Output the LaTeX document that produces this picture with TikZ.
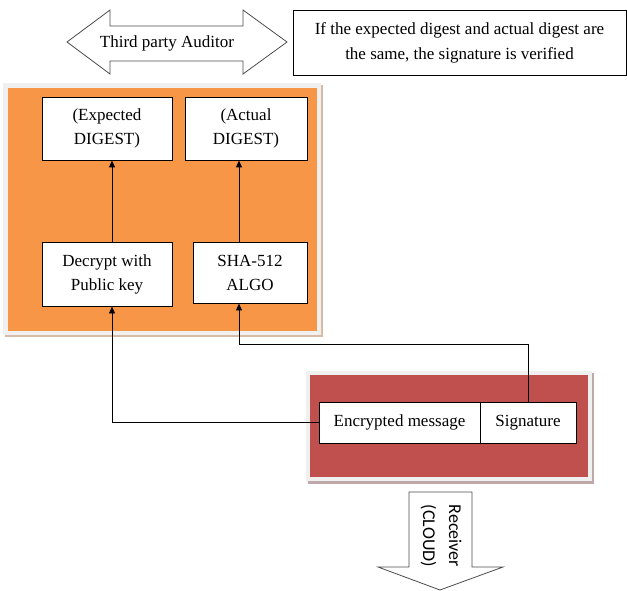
\documentclass[tikz,border=0pt]{standalone}
\usepackage{fontspec}
\setmainfont{Liberation Serif}
\newfontfamily\receiverfont{Carlito}
\usetikzlibrary{arrows.meta}
\definecolor{panelorange}{HTML}{F79646}
\definecolor{panelred}{HTML}{C0504D}
\definecolor{panelframe}{HTML}{F0F0F0}
\definecolor{orangeshade}{HTML}{D9BBA3}
\definecolor{redshade}{HTML}{BFA7AA}
\tikzset{
  stepbox/.style={draw,fill=white,line width=0.9pt,align=center,inner sep=0pt,
    font=\fontsize{17}{24}\selectfont},
  flow/.style={-{Triangle[length=7pt,width=6pt]},line width=0.9pt},
  bigarrow/.style={draw=black!70,fill=white,line width=0.8pt},
}
\begin{document}
\begin{tikzpicture}[x=1pt,y=-1pt]
\useasboundingbox (0,0) rectangle (627,591);
% top: auditor arrow and note
\draw[bigarrow] (67,42) -- (110,10) -- (110,26) -- (243,26) -- (243,10) -- (287,42)
  -- (243,74) -- (243,61) -- (110,61) -- (110,74) -- cycle;
\node[font=\fontsize{17}{20}\selectfont] (auditor) at(167,43){Third party Auditor};
\node[stepbox,minimum width=333,minimum height=65,font=\fontsize{17}{25}\selectfont] (note) at(459.5,42.5)
  {If the expected digest and actual digest are\\the same, the signature is verified};
% orange panel
\fill[orangeshade] (5,85) rectangle (323,337);
\fill[panelframe] (3,83) rectangle (321,335);
\fill[panelorange] (8,88) rectangle (317,331);
\node[stepbox,minimum width=130,minimum height=63] (exp) at(107,128.5){(Expected\\DIGEST)};
\node[stepbox,minimum width=122,minimum height=63] (act) at(246,128.5){(Actual\\DIGEST)};
\node[stepbox,minimum width=130,minimum height=64] (dec) at(107,274){Decrypt with\\Public key};
\node[stepbox,minimum width=114,minimum height=61] (sha) at(250,272.5){SHA-512\\ALGO};
% red panel
\fill[redshade] (308,373) rectangle (594,484);
\fill[panelframe] (306,371) rectangle (592,481);
\fill[panelred] (310,375) rectangle (588,477);
\node[stepbox,minimum width=161,minimum height=41] (enc) at(399.5,422.5){Encrypted message};
\node[stepbox,minimum width=96,minimum height=41] (sig) at(528,422.5){Signature};
% receiver arrow
\draw[bigarrow] (409,492) -- (472,492) -- (472,567) -- (503,567) -- (440,590)
  -- (378,567) -- (409,567) -- cycle;
\node[rotate=-90,align=left,font=\receiverfont\fontsize{18}{26}\selectfont] (recv) at(441,536){Receiver\\(CLOUD)};
% connectors
\coordinate (decin) at([xshift=5]dec.south);
\coordinate (shain) at([xshift=-11]sha.south);
\draw[flow] ([xshift=5]dec.north) -- ([xshift=5]exp.south);
\draw[flow] ([xshift=-11]sha.north) -- ([xshift=-7]act.south);
\draw[flow] (enc.west) -| (decin);
\draw[flow] (sig.north) -- ++(0,-57) -| (shain);
\end{tikzpicture}
\end{document}
